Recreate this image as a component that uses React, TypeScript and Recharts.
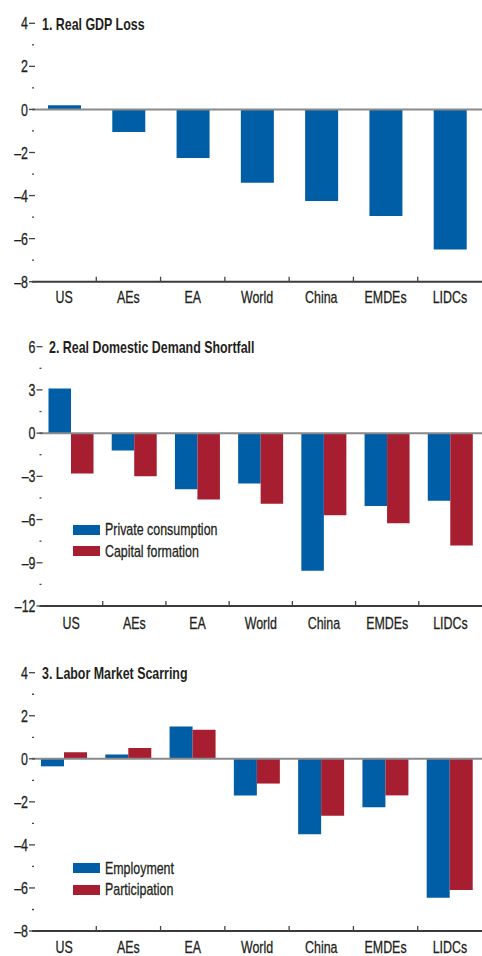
import { BarChart, Bar, XAxis, YAxis, ReferenceLine, Legend } from 'recharts'

const categories = ['US', 'AEs', 'EA', 'World', 'China', 'EMDEs', 'LIDCs']

// 1. Real GDP loss
const gdpLoss = [0.2, -1.05, -2.25, -3.4, -4.25, -4.95, -6.5]

// 2. Real domestic demand shortfall
const privateConsumption = [3.1, -1.2, -3.9, -3.5, -9.55, -5.05, -4.7]
const capitalFormation = [-2.8, -3.0, -4.6, -4.9, -5.7, -6.25, -7.8]

// 3. Labor market scarring
const employment = [-0.35, 0.2, 1.5, -1.7, -3.5, -2.25, -6.45]
const participation = [0.3, 0.5, 1.35, -1.15, -2.65, -1.7, -6.1]

const ticksGdp = [-8, -7, -6, -5, -4, -3, -2, -1, 0, 1, 2, 3, 4]
const ticksDemand = [-12, -10.5, -9, -7.5, -6, -4.5, -3, -1.5, 0, 1.5, 3, 4.5, 6]
const ticksLabor = [-8, -7, -6, -5, -4, -3, -2, -1, 0, 1, 2, 3, 4]

// Liberation Sans squeezed horizontally stands in for a condensed face
const FONT = '"Liberation Sans", Arial, sans-serif'
const FS = 17
const NARROW = 0.73
const BLUE = '#005ea6'
const RED = '#a61e30'
const INK = '#231f20'
const TICK = '#444'
const CHART_W = 482

const fmt = (v: number) => (v < 0 ? `\u2013${Math.abs(v)}` : `${v}`)

const leftTick = (isMajor: (v: number) => boolean) => (props: any) => {
  const { x, y, payload } = props
  const v = payload.value
  if (!isMajor(v)) {
    return <line x1={x} x2={x + 2} y1={y} y2={y} stroke={TICK} strokeWidth={1.3} />
  }
  return (
    <g>
      <line x1={x - 3} x2={x + 3} y1={y} y2={y} stroke={TICK} strokeWidth={1.3} />
      <text
        x={0}
        y={0}
        transform={`translate(${x - 4} ${y}) scale(${NARROW} 1)`}
        dy="0.36em"
        textAnchor="end"
        fontSize={FS}
        fontFamily={FONT}
        fill={INK}
        stroke={INK}
        strokeWidth={0.3}
      >
        {fmt(v)}
      </text>
    </g>
  )
}

const rightTick = (props: any) => {
  const { x, y } = props
  return <line x1={x - 3.5} x2={x - 0.5} y1={y} y2={y} stroke={TICK} strokeWidth={1.3} />
}

// category label plus the small upward tick on the boundary to its right
const bottomTick = (band: number, gap: number) => (props: any) => {
  const { x, y, payload, index } = props
  const axisY = y - gap
  return (
    <g>
      {index < categories.length - 1 && (
        <line x1={x + band / 2} x2={x + band / 2} y1={axisY} y2={axisY - 5} stroke={TICK} strokeWidth={1.3} />
      )}
      <text
        x={0}
        y={0}
        transform={`translate(${x} ${y}) scale(${NARROW} 1)`}
        dy="0.71em"
        textAnchor="middle"
        fontSize={FS}
        fontFamily={FONT}
        fill={INK}
        stroke={INK}
        strokeWidth={0.3}
      >
        {payload.value}
      </text>
    </g>
  )
}

const legendContent = (order: string[]) => (props: any) => {
  const items = [...(props.payload || [])].sort((a: any, b: any) => order.indexOf(a.value) - order.indexOf(b.value))
  return (
    <div style={{ fontFamily: FONT, fontSize: FS, color: INK }}>
      {items.map((p: any) => (
        <div key={p.value} style={{ display: 'flex', alignItems: 'center', height: 21.5 }}>
          <span style={{ display: 'inline-block', width: 27, height: 10, background: p.color, marginRight: 5 }} />
          <span
            style={{
              display: 'inline-block',
              lineHeight: `${FS}px`,
              whiteSpace: 'nowrap',
              WebkitTextStroke: '0.3px ' + INK,
              transform: `scaleX(${NARROW})`,
              transformOrigin: 'left center',
            }}
          >
            {p.value}
          </span>
        </div>
      ))}
    </div>
  )
}

interface Series {
  key: string
  name: string
  color: string
}

interface PanelProps {
  top: number
  height: number
  marginTop: number
  plotHeight: number
  axisWidth: number
  title: string
  titleLeft: number
  titleCenter: number
  data: any[]
  series: Series[]
  domain: [number, number]
  ticks: number[]
  isMajor: (v: number) => boolean
  barSize: number
  labelGap: number
  legendTop?: number
}

function Panel(p: PanelProps) {
  const axisHeight = p.height - p.marginTop - p.plotHeight
  const band = (CHART_W - p.axisWidth) / categories.length
  return (
    <div style={{ position: 'absolute', left: 0, top: p.top, width: CHART_W, height: p.height }}>
      <div
        style={{
          position: 'absolute',
          left: p.titleLeft,
          top: p.titleCenter - 8.3,
          fontFamily: FONT,
          fontWeight: 'bold',
          fontSize: FS,
          lineHeight: `${FS}px`,
          color: INK,
          whiteSpace: 'nowrap',
          transform: `scaleX(${NARROW})`,
          transformOrigin: 'left center',
          zIndex: 2,
        }}
      >
        {p.title}
      </div>
      <BarChart
        width={CHART_W}
        height={p.height}
        data={p.data}
        margin={{ top: p.marginTop, right: 0, bottom: 0, left: 0 }}
        barGap={0}
        barSize={p.barSize}
      >
        <XAxis
          dataKey="name"
          height={axisHeight}
          axisLine={{ stroke: '#3a3a3a', strokeWidth: 2 }}
          tickLine={false}
          tickSize={0}
          tickMargin={p.labelGap}
          interval={0}
          tick={bottomTick(band, p.labelGap)}
        />
        <YAxis
          width={p.axisWidth}
          domain={p.domain}
          ticks={p.ticks}
          interval={0}
          axisLine={false}
          tickLine={false}
          tickSize={0}
          tickMargin={0}
          tick={leftTick(p.isMajor)}
          allowDataOverflow
        />
        <YAxis
          yAxisId="r"
          orientation="right"
          width={0}
          domain={p.domain}
          ticks={p.ticks}
          interval={0}
          axisLine={false}
          tickLine={false}
          tickSize={0}
          tickMargin={0}
          tick={rightTick}
          allowDataOverflow
        />
        {p.series.map((s) => (
          <Bar key={s.key} dataKey={s.key} name={s.name} fill={s.color} isAnimationActive={false} />
        ))}
        <ReferenceLine y={0} stroke="#8a8a8a" strokeWidth={2} />
        {p.legendTop !== undefined && (
          <Legend
            layout="vertical"
            align="center"
            verticalAlign="middle"
            content={legendContent(p.series.map((s) => s.name))}
            wrapperStyle={{ left: 72.7, top: p.legendTop, width: 'auto' }}
          />
        )}
      </BarChart>
    </div>
  )
}

export default function App() {
  const gdpData = categories.map((name, i) => ({ name, gdp: gdpLoss[i] }))
  const demandData = categories.map((name, i) => ({
    name,
    pc: privateConsumption[i],
    cf: capitalFormation[i],
  }))
  const laborData = categories.map((name, i) => ({
    name,
    emp: employment[i],
    part: participation[i],
  }))

  return (
    <div style={{ position: 'absolute', left: 0, top: 0, width: CHART_W, height: 956, background: '#fff', overflow: 'hidden' }}>
      <Panel
        top={0}
        height={310}
        marginTop={23.3}
        plotHeight={258.4}
        axisWidth={32}
        title="1. Real GDP Loss"
        titleLeft={41.5}
        titleCenter={24.5}
        data={gdpData}
        series={[{ key: 'gdp', name: 'Real GDP loss', color: BLUE }]}
        domain={[-8, 4]}
        ticks={ticksGdp}
        isMajor={(v) => v % 2 === 0}
        barSize={33}
        labelGap={9}
      />
      <Panel
        top={320}
        height={316}
        marginTop={26.7}
        plotHeight={259.3}
        axisWidth={39.5}
        title="2. Real Domestic Demand Shortfall"
        titleLeft={49.3}
        titleCenter={27}
        data={demandData}
        series={[
          { key: 'pc', name: 'Private consumption', color: BLUE },
          { key: 'cf', name: 'Capital formation', color: RED },
        ]}
        domain={[-12, 6]}
        ticks={ticksDemand}
        isMajor={(v) => v % 3 === 0}
        barSize={22.5}
        labelGap={10.7}
        legendTop={199}
      />
      <Panel
        top={640}
        height={316}
        marginTop={32.7}
        plotHeight={258.3}
        axisWidth={32}
        title="3. Labor Market Scarring"
        titleLeft={41.7}
        titleCenter={33}
        data={laborData}
        series={[
          { key: 'emp', name: 'Employment', color: BLUE },
          { key: 'part', name: 'Participation', color: RED },
        ]}
        domain={[-8, 4]}
        ticks={ticksLabor}
        isMajor={(v) => v % 2 === 0}
        barSize={23}
        labelGap={9.7}
        legendTop={217.5}
      />
    </div>
  )
}
